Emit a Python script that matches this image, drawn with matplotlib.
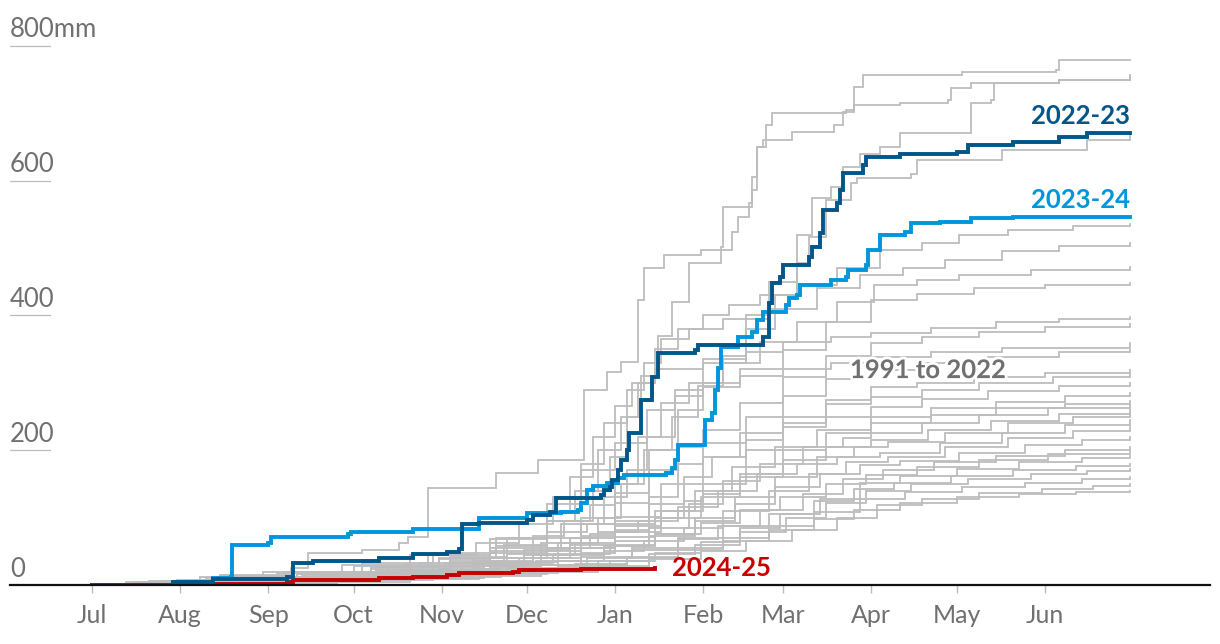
import matplotlib
matplotlib.use('Agg')
import matplotlib.pyplot as plt
import matplotlib.patheffects as pe

plt.rcParams['font.family'] = ['Lato', 'DejaVu Sans']

# days since 1 July, cumulative rainfall in mm
month_days = [0, 31, 62, 92, 123, 153, 184, 215, 243, 274, 304, 335]
month_labels = ['Jul', 'Aug', 'Sep', 'Oct', 'Nov', 'Dec', 'Jan', 'Feb', 'Mar', 'Apr', 'May', 'Jun']
y_ticks = [0, 200, 400, 600, 800]
y_labels = ['0', '200', '400', '600', '800mm']

s2022_23 = [(0, 0), (28.5, 4), (42.5, 9), (68.6, 12), (70.7, 33), (77.7, 36), (101, 40), (113, 46),
            (125, 49), (129, 53), (130, 91), (136, 92), (153, 96), (155, 104), (161, 108), (163, 129),
            (179, 134), (180, 141), (182, 145), (183, 156), (185, 171), (186, 186), (188, 200), (189, 226),
            (193, 230), (193, 275), (197, 279), (197, 309), (199, 344), (212, 349), (213, 356), (236, 368),
            (238, 374), (238, 418), (239, 448), (242, 457), (243, 475), (252, 487), (253, 502), (256, 522),
            (257, 556), (262, 567), (263, 586), (264, 611), (271, 623), (272, 635), (284, 640), (304, 643),
            (308, 653), (324, 657), (340, 665), (350, 671), (365, 671)]

s2023_24 = [(0, 0), (28.5, 4), (42.5, 10), (49, 12), (49.2, 59), (62, 62), (63, 71), (90, 76), (91, 79),
            (113, 83), (136, 99), (153, 107), (165, 108), (171, 111), (172, 122), (174, 141), (176, 147),
            (181, 151), (185, 159), (187, 163), (202, 166), (204, 174), (205, 185), (206, 208), (215, 208),
            (215.5, 245), (218, 255), (219, 289), (220, 322), (221, 353), (227, 368), (232, 375), (234, 393),
            (236, 405), (244, 416), (245, 426), (248, 430), (249, 445), (260, 453), (265, 457), (266, 467),
            (272, 475), (273, 497), (277, 519), (286, 524), (288, 537), (298, 539), (309, 545), (324, 546),
            (365, 546)]

s2024_25 = [(0, 0), (42.5, 1.5), (68.6, 4), (70.7, 7), (101, 10), (113, 12), (125, 15), (129, 18),
            (148, 19), (150, 22), (172, 24), (198, 25)]

g01 = [(0, 0), (20, 5), (45, 15), (70, 25), (76, 47), (95, 52), (108, 62), (111, 71), (118, 92), (118, 144),
       (142, 166), (157, 185), (173, 211), (173, 289), (181, 316), (186, 331), (192, 375), (192, 423),
       (194, 470), (201, 490), (214, 497), (221, 502), (222, 561), (232, 567), (232, 605), (234, 650),
       (237, 683), (239, 700), (265, 705), (268, 739), (271, 757), (306, 761), (339, 764), (340, 779), (365, 779)]
g02 = [(0, 0), (25, 6), (50, 12), (75, 18), (100, 26), (122, 38), (140, 55), (155, 72), (166, 95), (176, 140),
       (182, 190), (188, 250), (193, 310), (199, 370), (204, 420), (210, 478), (221, 497), (225, 524),
       (227, 546), (231, 567), (232, 586), (234, 650), (236, 660), (246, 672), (261, 683), (264, 702),
       (268, 712), (284, 715), (301, 720), (302, 738), (309, 745), (340, 750), (365, 754)]
g03 = [(0, 0), (30, 7), (55, 12), (85, 20), (115, 32), (140, 48), (160, 70), (178, 100), (186, 150),
       (194, 200), (204, 250), (213, 295), (222, 340), (230, 400), (238, 450), (248, 520), (253, 574),
       (260, 590), (264, 620), (270, 640), (277, 650), (284, 671), (309, 678), (309, 715), (316, 720),
       (317, 745), (340, 750), (365, 757)]
g04 = [(0, 0), (35, 8), (70, 18), (110, 30), (140, 50), (165, 90), (180, 130), (188, 170), (195, 220),
       (205, 280), (215, 330), (230, 380), (240, 430), (248, 478), (252, 516), (258, 571), (267, 597),
       (269, 604), (288, 610), (290, 630), (320, 645), (350, 660), (365, 668)]
g05 = [(0, 0), (22, 4), (48, 10), (72, 16), (98, 24), (126, 36), (145, 60), (160, 95), (170, 140), (178, 200),
       (186, 250), (192, 300), (198, 350), (206, 380), (215, 400), (224, 415), (235, 430), (248, 445),
       (262, 470), (277, 497), (292, 508), (305, 520), (322, 527), (345, 532), (365, 535)]
g06 = [(0, 0), (12, 5), (38, 12), (60, 20), (88, 30), (112, 45), (135, 62), (150, 90), (162, 130), (172, 180),
       (180, 240), (188, 290), (194, 330), (200, 365), (210, 380), (222, 395), (238, 410), (255, 440),
       (270, 460), (285, 470), (300, 482), (320, 495), (340, 503), (365, 507)]
g07 = [(0, 0), (28, 3), (55, 8), (80, 14), (108, 22), (135, 35), (155, 55), (172, 100), (184, 150), (192, 220),
       (200, 270), (210, 300), (222, 330), (235, 360), (248, 390), (262, 420), (275, 445), (290, 452),
       (305, 460), (330, 468), (365, 472)]
g08 = [(0, 0), (20, 6), (45, 13), (68, 20), (95, 32), (120, 48), (142, 70), (160, 95), (175, 118), (184, 136),
       (196, 200), (206, 260), (215, 294), (228, 320), (243, 349), (258, 390), (274, 423), (290, 432),
       (310, 440), (335, 445), (365, 448)]
g09 = [(0, 0), (25, 5), (52, 11), (78, 18), (104, 28), (126, 42), (146, 70), (160, 110), (168, 160),
       (176, 220), (184, 265), (190, 300), (198, 320), (215, 335), (230, 345), (243, 360), (260, 368),
       (274, 374), (295, 382), (318, 390), (340, 395), (365, 398)]
g10 = [(0, 0), (35, 4), (62, 9), (90, 16), (115, 26), (138, 40), (158, 62), (172, 90), (184, 122), (196, 170),
       (206, 205), (215, 230), (228, 270), (243, 309), (258, 340), (274, 359), (292, 368), (312, 376),
       (335, 383), (365, 387)]
g11 = [(0, 0), (15, 4), (40, 10), (65, 18), (92, 28), (118, 44), (140, 68), (160, 120), (172, 170), (184, 210),
       (195, 260), (205, 290), (215, 300), (228, 310), (243, 320), (260, 330), (274, 338), (295, 345),
       (320, 352), (365, 359)]
g12 = [(0, 0), (30, 3), (58, 7), (85, 12), (112, 20), (136, 30), (155, 45), (170, 62), (184, 82), (196, 130),
       (206, 180), (215, 211), (230, 250), (243, 280), (258, 305), (274, 319), (292, 330), (315, 338),
       (340, 345), (365, 349)]
g13 = [(0, 0), (25, 3), (50, 6), (80, 11), (106, 18), (130, 28), (150, 40), (168, 55), (184, 71), (198, 100),
       (208, 125), (215, 150), (230, 200), (243, 240), (258, 275), (274, 294), (290, 300), (310, 308),
       (335, 315), (365, 319)]
g14 = [(0, 0), (20, 5), (46, 10), (72, 17), (98, 26), (122, 40), (142, 58), (160, 78), (174, 90), (184, 101),
       (200, 150), (215, 190), (228, 225), (243, 250), (258, 268), (274, 279), (292, 290), (312, 300),
       (338, 308), (365, 313)]
g15 = [(0, 0), (32, 4), (60, 8), (88, 14), (115, 22), (138, 33), (158, 50), (172, 72), (184, 95), (196, 120),
       (208, 160), (218, 190), (230, 215), (243, 235), (258, 250), (274, 264), (292, 276), (315, 288),
       (340, 296), (365, 300)]
g16 = [(0, 0), (18, 2), (42, 6), (70, 11), (96, 18), (120, 28), (140, 40), (160, 55), (175, 75), (184, 90),
       (198, 110), (212, 140), (225, 175), (240, 205), (255, 230), (274, 249), (295, 262), (318, 272),
       (342, 280), (365, 285)]
g17 = [(0, 0), (26, 3), (55, 7), (84, 12), (110, 20), (134, 30), (152, 44), (168, 60), (184, 78), (200, 100),
       (214, 130), (228, 165), (243, 200), (258, 225), (274, 240), (295, 252), (318, 262), (342, 269), (365, 273)]
g18 = [(0, 0), (35, 3), (64, 6), (92, 11), (118, 18), (140, 27), (158, 40), (172, 55), (184, 66), (196, 85),
       (210, 120), (222, 155), (235, 180), (250, 205), (264, 218), (274, 226), (292, 240), (312, 252),
       (336, 262), (365, 269)]
g19 = [(0, 0), (14, 3), (38, 7), (62, 12), (88, 19), (112, 28), (134, 40), (152, 52), (168, 70), (184, 88),
       (200, 110), (215, 135), (228, 160), (243, 185), (258, 205), (274, 215), (294, 230), (316, 243),
       (340, 254), (365, 261)]
g20 = [(0, 0), (30, 2), (58, 5), (86, 9), (112, 15), (136, 24), (156, 35), (172, 48), (184, 58), (198, 75),
       (212, 100), (226, 130), (240, 160), (255, 190), (268, 205), (280, 212), (300, 225), (322, 240),
       (345, 250), (365, 255)]
g21 = [(0, 0), (22, 4), (48, 8), (74, 14), (100, 22), (124, 32), (146, 46), (164, 62), (178, 78), (192, 95),
       (206, 115), (220, 140), (234, 165), (248, 180), (262, 190), (277, 196), (298, 210), (320, 225),
       (342, 238), (365, 245)]
g22 = [(0, 0), (40, 3), (70, 6), (98, 10), (124, 16), (146, 25), (164, 36), (180, 50), (194, 65), (208, 85),
       (222, 110), (238, 140), (252, 165), (265, 182), (280, 190), (300, 205), (322, 218), (345, 228), (365, 235)]
g23 = [(0, 0), (16, 2), (42, 5), (68, 9), (95, 15), (120, 22), (142, 32), (162, 44), (180, 58), (196, 72),
       (212, 95), (226, 120), (240, 145), (256, 165), (270, 178), (284, 184), (305, 196), (328, 208),
       (348, 215), (365, 220)]
g24 = [(0, 0), (28, 2), (56, 4), (84, 8), (110, 13), (134, 20), (156, 29), (174, 40), (190, 52), (206, 68),
       (220, 88), (235, 112), (250, 135), (264, 158), (278, 171), (296, 182), (318, 192), (342, 200), (365, 205)]
g25 = [(0, 0), (20, 3), (46, 6), (72, 10), (98, 16), (122, 24), (144, 34), (164, 46), (182, 60), (198, 75),
       (214, 92), (228, 112), (242, 130), (258, 150), (272, 163), (290, 175), (312, 186), (336, 194), (365, 200)]
g26 = [(0, 0), (36, 2), (66, 4), (94, 7), (120, 12), (144, 18), (164, 26), (182, 36), (198, 48), (214, 64),
       (228, 84), (242, 105), (256, 128), (270, 152), (284, 162), (304, 172), (326, 182), (348, 188), (365, 191)]
g27 = [(0, 0), (24, 2), (52, 5), (80, 9), (106, 14), (130, 21), (152, 30), (172, 42), (190, 55), (206, 70),
       (222, 88), (238, 105), (254, 125), (268, 142), (282, 152), (302, 162), (324, 170), (346, 176), (365, 180)]
g28 = [(0, 0), (32, 2), (60, 4), (88, 7), (114, 11), (138, 17), (160, 25), (178, 35), (196, 46), (212, 60),
       (228, 78), (244, 100), (258, 122), (272, 140), (288, 150), (308, 158), (330, 165), (350, 169), (365, 172)]
g29 = [(0, 0), (18, 1), (44, 3), (72, 6), (100, 10), (126, 15), (150, 22), (170, 31), (188, 42), (206, 55),
       (222, 70), (238, 88), (254, 108), (270, 128), (286, 138), (306, 146), (328, 152), (348, 157), (365, 160)]
g30 = [(0, 0), (30, 1), (58, 3), (86, 5), (112, 9), (136, 14), (158, 20), (178, 28), (196, 38), (214, 50),
       (230, 65), (246, 82), (262, 100), (276, 118), (292, 128), (312, 136), (334, 143), (352, 147), (365, 150)]
g31 = [(0, 0), (22, 2), (50, 4), (78, 7), (104, 11), (128, 16), (150, 22), (170, 30), (188, 40), (206, 52),
       (222, 66), (238, 82), (254, 98), (268, 112), (284, 122), (304, 130), (326, 135), (346, 138), (365, 140)]

grey_seasons = [g01, g02, g03, g04, g05, g06, g07, g08, g09, g10, g11, g12, g13, g14, g15, g16,
                g17, g18, g19, g20, g21, g22, g23, g24, g25, g26, g27, g28, g29, g30, g31]

GREY = '#bdbdbd'
DARK = '#005689'
LIGHT = '#0096dc'
RED = '#c70000'
TXT = '#707070'

fig = plt.figure(figsize=(12.2, 6.44), dpi=100)
ax = fig.add_axes([10 / 1220, 59 / 644, 1200 / 1220, 585 / 644])
ax.set_xlim(-28.8, 393.1)
ax.set_ylim(0, 868)


def draw(series, **kw):
    d, v = zip(*series)
    ax.plot(d, v, drawstyle='steps-post', solid_joinstyle='miter', **kw)


for s in grey_seasons:
    draw(s, color=GREY, lw=1.3, zorder=2)

draw(s2024_25, color=RED, lw=2.8, zorder=3)
draw(s2023_24, color=LIGHT, lw=2.8, zorder=4)
draw(s2022_23, color=DARK, lw=2.8, zorder=5)

# y gridline stubs and labels
for val, lab in zip(y_ticks, y_labels):
    if val > 0:
        ax.axhline(val, xmin=0, xmax=40 / 1200, color='#bbbbbb', lw=0.9)
    ax.annotate(lab, xy=(0, val), xycoords=('axes fraction', 'data'), xytext=(0, 6),
                textcoords='offset points', ha='left', va='baseline', fontsize=18.5, color=TXT)

for sp in ['top', 'right', 'left']:
    ax.spines[sp].set_visible(False)
ax.spines['bottom'].set_color('#111111')
ax.spines['bottom'].set_linewidth(1.6)
ax.spines['bottom'].set_zorder(6)
ax.set_yticks([])
ax.set_xticks(month_days)
ax.set_xticklabels(month_labels)
ax.tick_params(axis='x', length=6, width=1, color='#bbbbbb', labelsize=18, labelcolor=TXT, pad=8)

ax.text(365, 684, '2022-23', ha='right', va='baseline', fontsize=18.5, fontweight='bold', color=DARK)
ax.text(365, 559, '2023-24', ha='right', va='baseline', fontsize=18.5, fontweight='bold', color=LIGHT)
ax.text(204, 13, '2024-25', ha='left', va='baseline', fontsize=18.5, fontweight='bold', color=RED)
ax.text(266.5, 307, '1991 to 2022', ha='left', va='baseline', fontsize=18.5, fontweight='bold', color=TXT,
        zorder=6, path_effects=[pe.withStroke(linewidth=4, foreground='white')])

fig.savefig('out.png', dpi=100)
